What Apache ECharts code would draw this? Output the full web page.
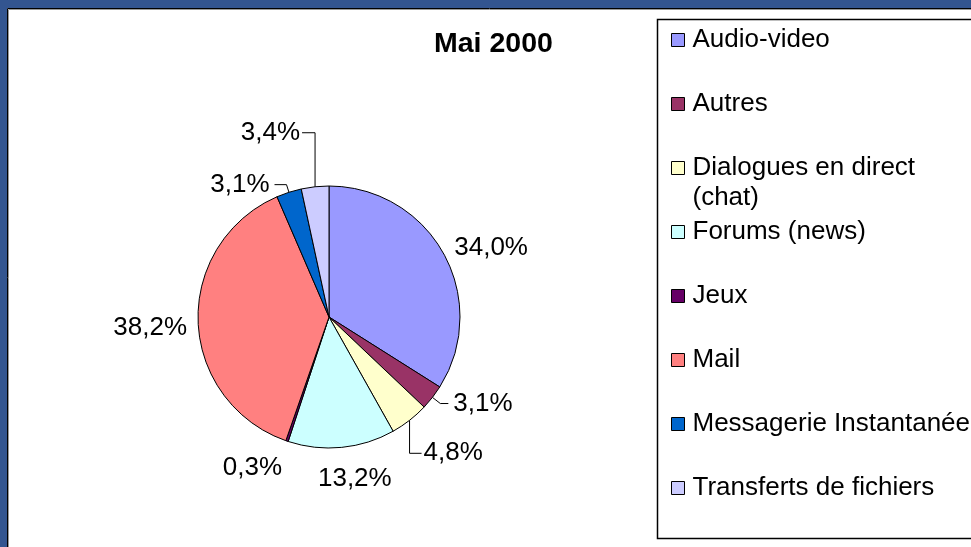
<!DOCTYPE html>
<html><head><meta charset="utf-8">
<script src="https://cdn.jsdelivr.net/npm/echarts@6/dist/echarts.min.js"></script>
<style>html,body{margin:0;padding:0;background:#fff}#c{width:971px;height:547px}</style>
</head><body><div id="c"></div>
<script>
// ---- data ----
const chartTitle = 'Mai 2000';
const categories = ['Audio-video', 'Autres', 'Dialogues en direct (chat)', 'Forums (news)', 'Jeux', 'Mail', 'Messagerie Instantanée', 'Transferts de fichiers'];
const legendFirstLines = ['Audio-video', 'Autres', 'Dialogues en direct', 'Forums (news)', 'Jeux', 'Mail', 'Messagerie Instantanée', 'Transferts de fichiers'];
const legendSecondLines = ['', '', '(chat)', '', '', '', '', ''];
const values = [34.0, 3.1, 4.8, 13.2, 0.3, 38.2, 3.1, 3.4];
const sliceColors = ['#9999FF', '#993366', '#FFFFCC', '#CCFFFF', '#660066', '#FF8080', '#0066CC', '#CCCCFF'];

// ---- styles ----
const FONT = '"Liberation Sans", Arial, sans-serif';
// leader-line lengths / label spacing per slice (style only)
const labelStyles = [
  { len: 12, len2: 0, dist: 0, line: false },
  { len: 10, len2: 8, dist: 5, line: true },
  { len: 28, len2: 4, dist: 5, line: true, elbow: { down: 33, side: 12 } },
  { len: 32, len2: 0, dist: 10, line: false, center: true },
  { len: 28, len2: 0, dist: -4, line: false },
  { len: 6, len2: 0, dist: 5, line: false, dy: 6 },
  { len: 8, len2: 12, dist: 5, line: true },
  { len: 54, len2: 8, dist: 4, line: true, elbow: { down: -54, side: -13 } }
];

const legendText = {};
categories.forEach((c, i) => { legendText[c] = '\n' + legendFirstLines[i] + '\n' + (legendSecondLines[i] || ' '); });

const pieData = categories.map((name, i) => ({
  name: name,
  value: values[i],
  itemStyle: { color: sliceColors[i] },
  label: { distanceToLabelLine: labelStyles[i].dist },
  labelLine: { show: labelStyles[i].line, length: labelStyles[i].len, length2: labelStyles[i].len2 }
}));

function layoutLabel(p) {
  const s = labelStyles[p.dataIndex];
  if (s.elbow && p.labelLinePoints) {
    const x1 = p.labelLinePoints[0][0], y1 = p.labelLinePoints[0][1];
    const yE = y1 + s.elbow.down, xE = x1 + s.elbow.side;
    const right = s.elbow.side > 0;
    return {
      x: xE + (right ? 2 : -2), y: yE,
      align: right ? 'left' : 'right', verticalAlign: 'middle',
      labelLinePoints: [[x1, y1], [x1, yE], [xE, yE]]
    };
  }
  if (s.center) return { align: 'center' };
  if (s.dy) return { dy: s.dy };
  return {};
}

const chart = echarts.init(document.getElementById('c'), null, { renderer: 'canvas' });
const BLUE = '#335590';
chart.setOption({
  animation: false,
  backgroundColor: '#ffffff',
  title: {
    text: chartTitle, left: 434, top: 30, padding: 0,
    textStyle: { fontFamily: FONT, fontSize: 28.5, fontWeight: 'bold', color: '#000' }
  },
  legend: {
    orient: 'vertical', left: 671, top: -9, padding: 0,
    itemGap: -34, itemWidth: 13, itemHeight: 13,
    icon: 'rect',
    itemStyle: { borderColor: '#000', borderWidth: 1 },
    textStyle: { fontFamily: FONT, fontSize: 26, lineHeight: 30, color: '#000', padding: [0, 0, 8, 3] },
    formatter: name => legendText[name],
    data: categories,
    selectedMode: false
  },
  graphic: [
    { type: 'rect', shape: { x: 0, y: 0, width: 971, height: 8 }, style: { fill: BLUE }, z: 10 },
    { type: 'rect', shape: { x: 0, y: 0, width: 7, height: 547 }, style: { fill: BLUE }, z: 10 },
    { type: 'polyline', shape: { points: [[7.5, 547], [7.5, 8.5], [971, 8.5]] }, style: { stroke: '#000', lineWidth: 1, fill: null }, z: 10 },
    { type: 'polyline', shape: { points: [[8.5, 547], [8.5, 9.5], [971, 9.5]] }, style: { stroke: '#999', lineWidth: 1, fill: null }, z: 10 },
    { type: 'rect', shape: { x: 657.5, y: 19.5, width: 330, height: 519 }, style: { fill: null, stroke: '#000', lineWidth: 1.5 }, z: 10 }
  ],
  series: [{
    type: 'pie',
    center: [329, 317],
    radius: 131,
    startAngle: 90,
    clockwise: true,
    avoidLabelOverlap: false,
    itemStyle: { borderColor: '#000', borderWidth: 1 },
    label: {
      show: true, position: 'outside', color: '#000',
      fontFamily: FONT, fontSize: 26,
      formatter: p => p.value.toFixed(1).replace('.', ',') + '%'
    },
    labelLine: { lineStyle: { color: '#000', width: 1 }, smooth: false },
    labelLayout: layoutLabel,
    emphasis: { disabled: true },
    data: pieData
  }]
});
</script>
</body></html>
